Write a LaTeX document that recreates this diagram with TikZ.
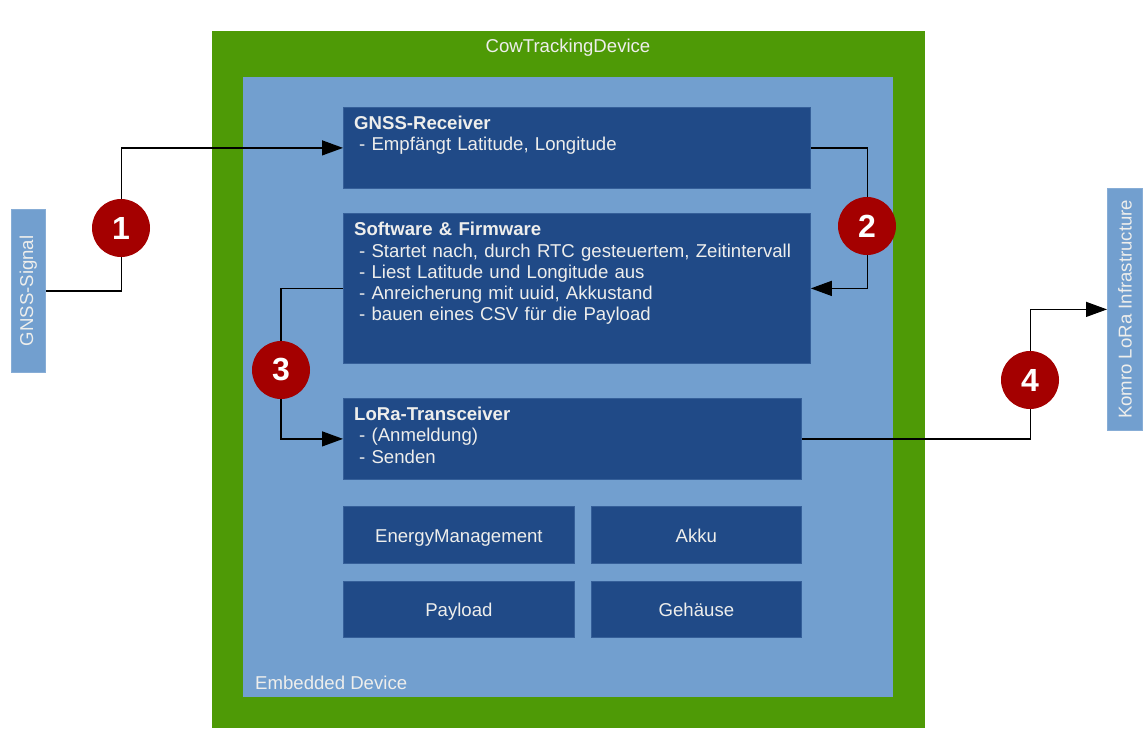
\documentclass[tikz,border=0pt]{standalone}
\usepackage{fontspec}
\setmainfont{Liberation Sans}
\usetikzlibrary{arrows.meta,positioning}
\definecolor{devgreen}{HTML}{4E9A06}
\definecolor{embblue}{HTML}{729FCF}
\definecolor{modblue}{HTML}{204A87}
\definecolor{stepred}{HTML}{A40000}
\definecolor{txtwhite}{HTML}{EEEEEC}
\tikzset{
  module/.style={fill=modblue, draw=modblue!75!embblue, line width=0.8pt, inner sep=0pt, anchor=north west},
  modtext/.style={anchor=base west, align=left, text width=450pt, text=txtwhite, inner sep=0pt, font=\fontsize{18.6}{21.3}\selectfont},
  smallmod/.style={module, text=txtwhite, text height=18.4pt, text depth=3.9pt, font=\fontsize{18.6}{21.3}\selectfont},
  extbox/.style={fill=embblue, draw=embblue!85!white, line width=0.8pt, inner sep=0pt, anchor=north west},
  exttext/.style={rotate=90, text=txtwhite, inner sep=0pt, font=\fontsize{18.6}{21.3}\selectfont},
  flow/.style={line width=1.3pt, -{Triangle[length=21pt,width=15pt]}},
  stepnum/.style={circle, fill=stepred, text=white, minimum size=58pt, inner sep=0pt, font=\fontsize{32}{32}\selectfont\bfseries},
}
\begin{document}
\begin{tikzpicture}[x=1pt,y=-1pt]
\useasboundingbox (0,0) rectangle (1148,747);
% device and embedded board
\fill[devgreen] (212,31) rectangle (925,728);
\fill[embblue] (243,77) rectangle (893,697);
\node[text=txtwhite, anchor=base, font=\fontsize{18.6}{21.3}\selectfont] (devtitle) at (568,52) {CowTrackingDevice};
\node[text=txtwhite, anchor=base west, inner sep=0pt, font=\fontsize{18.6}{21.3}\selectfont] (embtitle) at (255,689) {Embedded Device};
% modules
\node[module, minimum width=467pt, minimum height=81pt] (gnssrx) at (343,107) {};
\node[modtext] at (354,129) {\textbf{GNSS-Receiver}\\\hspace*{5pt}- Empfängt Latitude, Longitude};
\node[module, minimum width=467pt, minimum height=150pt] (softfw) at (343,213) {};
\node[modtext] at (354,235.7) {\textbf{Software \& Firmware}\\\hspace*{5pt}- Startet nach, durch RTC gesteuertem, Zeitintervall\\\hspace*{5pt}- Liest Latitude und Longitude aus\\\hspace*{5pt}- Anreicherung mit uuid, Akkustand\\\hspace*{5pt}- bauen eines CSV für die Payload};
\node[module, minimum width=458pt, minimum height=81pt] (lora) at (343,398) {};
\node[modtext] at (354,420.5) {\textbf{LoRa-Transceiver}\\\hspace*{5pt}- (Anmeldung)\\\hspace*{5pt}- Senden};
\node[smallmod, minimum width=231pt, minimum height=57pt] (energy) at (343,506) {EnergyManagement};
\node[smallmod, minimum width=210pt, minimum height=57pt] (akku) at (591,506) {Akku};
\node[smallmod, minimum width=231pt, minimum height=56pt] (payload) at (343,581) {Payload};
\node[smallmod, minimum width=210pt, minimum height=56pt] (housing) at (591,581) {Gehäuse};
% outside
\node[extbox, minimum width=34pt, minimum height=163pt] (gnsssig) at (11,209) {};
\node[exttext] at (gnsssig.center) {GNSS-Signal};
\node[extbox, minimum width=35pt, minimum height=242pt] (komro) at (1107,188) {};
\node[exttext] at (komro.center) {Komro LoRa Infrastructure};
% data flow
\draw[flow] (gnsssig.east) -- ++(76,0) |- (gnssrx.west);
\draw[flow] (gnssrx.east) -- ++(57,0) |- (softfw.east);
\draw[flow] (softfw.west) -- ++(-62,0) |- (lora.west);
\draw[flow] (lora.east) -- ++(229,0) |- (komro.west);
\node[stepnum] (step1) at (121,228) {1};
\node[stepnum] (step2) at (867,226) {2};
\node[stepnum] (step3) at (281,370) {3};
\node[stepnum] (step4) at (1030,380) {4};
\end{tikzpicture}
\end{document}
